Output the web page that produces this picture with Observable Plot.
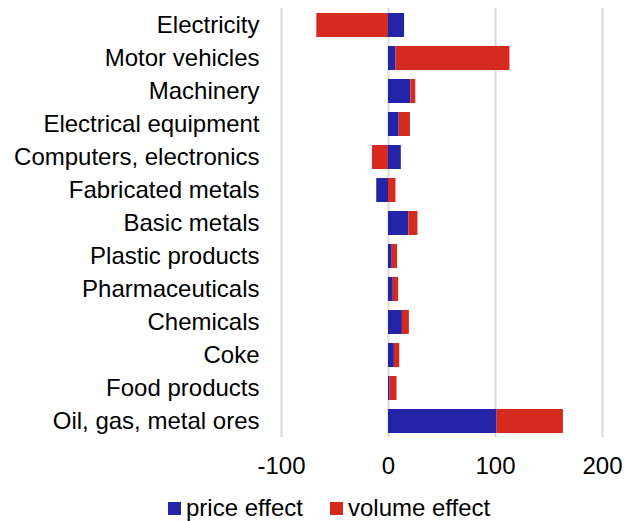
<!DOCTYPE html>
<html>
<head>
<meta charset="utf-8">
<script src="https://cdn.jsdelivr.net/npm/d3@7"></script>
<script src="https://cdn.jsdelivr.net/npm/@observablehq/plot@0.6"></script>
<style>
  html, body { margin: 0; padding: 0; background: #fff; }
  body { font-family: "Liberation Sans", Arial, sans-serif; }
  #chart svg { display: block; }
  .legend { display: flex; align-items: center; margin-top: 11px; padding-left: 168px;
            font-size: 24px; line-height: 26px; color: #000; }
  .legend .item { display: flex; align-items: center; margin-right: 27px; }
  .legend .sw { width: 13px; height: 13px; margin-right: 5px; }
</style>
</head>
<body>
<div id="chart"></div>
<script>
// Contributions by industry, split into price and volume effects
const categories = [
  "Electricity", "Motor vehicles", "Machinery", "Electrical equipment",
  "Computers, electronics", "Fabricated metals", "Basic metals",
  "Plastic products", "Pharmaceuticals", "Chemicals", "Coke",
  "Food products", "Oil, gas, metal ores"
];
const priceEffect  = [15, 7, 21, 10, 12, -11, 19, 3.5, 4.5, 13, 5.5, 1.5, 101.5];
const volumeEffect = [-67, 106.5, 4.5, 10.5, -15, 7, 8.5, 5, 5, 6.5, 5, 6.5, 62];
const seriesNames = ["price effect", "volume effect"];
const seriesColors = ["#2424a8", "#d62a1f"];
const xTicks = [-100, 0, 100, 200];

// Long table: price rows first so they stack nearest the axis
const rows = [
  ...categories.map((c, i) => ({category: c, series: seriesNames[0], value: priceEffect[i]})),
  ...categories.map((c, i) => ({category: c, series: seriesNames[1], value: volumeEffect[i]}))
];

const chart = Plot.plot({
  width: 631,
  height: 484,
  marginLeft: 281,
  marginRight: 29,
  marginTop: 8,
  marginBottom: 47,
  style: {fontFamily: "'Liberation Sans', Arial, sans-serif", fontSize: "24px", color: "#000", background: "#fff"},
  x: {domain: [-100, 200], ticks: xTicks, tickSize: 0, tickPadding: 19.5, label: null, tickFormat: d => String(d)},
  y: {domain: categories, paddingInner: 0.28, paddingOuter: 0.14, tickSize: 0, tickPadding: 22, label: null},
  color: {domain: seriesNames, range: seriesColors},
  marks: [
    Plot.gridX(xTicks, {stroke: "#d9d9d9", strokeOpacity: 1, strokeWidth: 2}),
    Plot.barX(rows, Plot.stackX({x: "value", y: "category", fill: "series", order: seriesNames}))
  ]
});
document.getElementById("chart").appendChild(chart);

// Legend below the chart
const legend = document.createElement("div");
legend.className = "legend";
seriesNames.forEach((name, i) => {
  const item = document.createElement("div");
  item.className = "item";
  const sw = document.createElement("span");
  sw.className = "sw";
  sw.style.background = seriesColors[i];
  const label = document.createElement("span");
  label.textContent = name;
  item.appendChild(sw);
  item.appendChild(label);
  legend.appendChild(item);
});
document.getElementById("chart").appendChild(legend);
</script>
</body>
</html>
